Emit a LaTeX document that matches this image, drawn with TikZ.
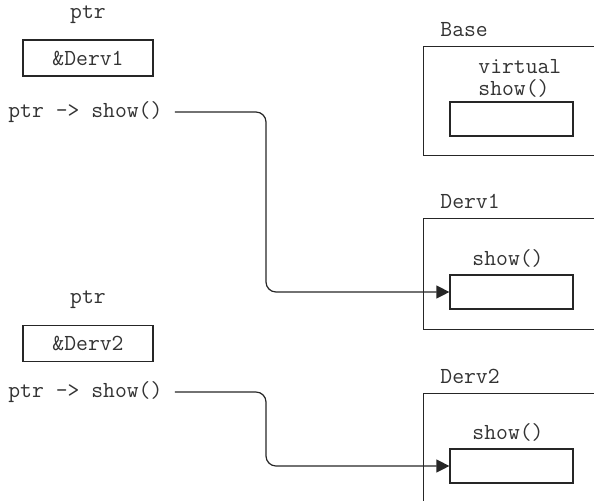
\documentclass[tikz,border=0pt]{standalone}
\usepackage{tikz}
\usetikzlibrary{positioning,arrows.meta}

\tikzset{
  texto/.style={font=\ttfamily\fontsize{11.5}{11}\selectfont, text=black!80, inner sep=2pt},
  casilla/.style={draw=black!85, line width=0.6pt, minimum width=65pt, minimum height=18pt, texto},
  ranura/.style={draw=black!85, line width=0.6pt, minimum width=61.5pt, minimum height=17pt},
  marco/.style={draw=black!85, line width=0.6pt, minimum width=95pt, anchor=north west},
  enlace/.style={draw=black!85, line width=0.6pt, rounded corners=5pt, -{Triangle[length=6.5pt,width=6.5pt]}}
}

\begin{document}
\begin{tikzpicture}[x=0.5pt, y=-0.5pt]
\useasboundingbox (0,0) rectangle (594,500);
\clip (0,0) rectangle (594,500);

%====================================================
% LADO IZQUIERDO: PUNTEROS
%====================================================
\node[texto] (ptrA) at (88,15) {ptr};
\node[casilla] (valA) at (88,58) {\&Derv1};
\node[texto, anchor=west] (callA) at (4,112) {ptr -> show()};

\node[texto] (ptrB) at (88,300) {ptr};
\node[casilla] (valB) at (88,343.5) {\&Derv2};
\node[texto, anchor=west] (callB) at (4,392) {ptr -> show()};

%====================================================
% LADO DERECHO: OBJETOS
%====================================================
\node[marco, minimum height=54.5pt] (baseBox) at (423,46) {};
\node[texto, anchor=south west] (baseLbl) at (436,41) {Base};
\node[texto, anchor=north west, align=left] (baseFun) at (474,55) {virtual\\show()};
\node[ranura] (baseSlot) at (511.5,119) {};

\node[marco, minimum height=55.5pt] (dervAbox) at (423,218) {};
\node[texto, anchor=south west] (dervAlbl) at (436,213) {Derv1};
\node[texto] (dervAfun) at (508,258) {show()};
\node[ranura] (dervAslot) at (511.5,292) {};

\node[marco, minimum height=60pt] (dervBbox) at (423,393) {};
\node[texto, anchor=south west] (dervBlbl) at (436,388) {Derv2};
\node[texto] (dervBfun) at (508,432) {show()};
\node[ranura] (dervBslot) at (511.5,466) {};

% conexiones
\coordinate (bendA) at (266,200);
\coordinate (bendB) at (266,430);
\draw[enlace] ([xshift=4pt]callA.east) -| (bendA) |- (dervAslot.west);
\draw[enlace] ([xshift=4pt]callB.east) -| (bendB) |- (dervBslot.west);
\end{tikzpicture}
\end{document}
